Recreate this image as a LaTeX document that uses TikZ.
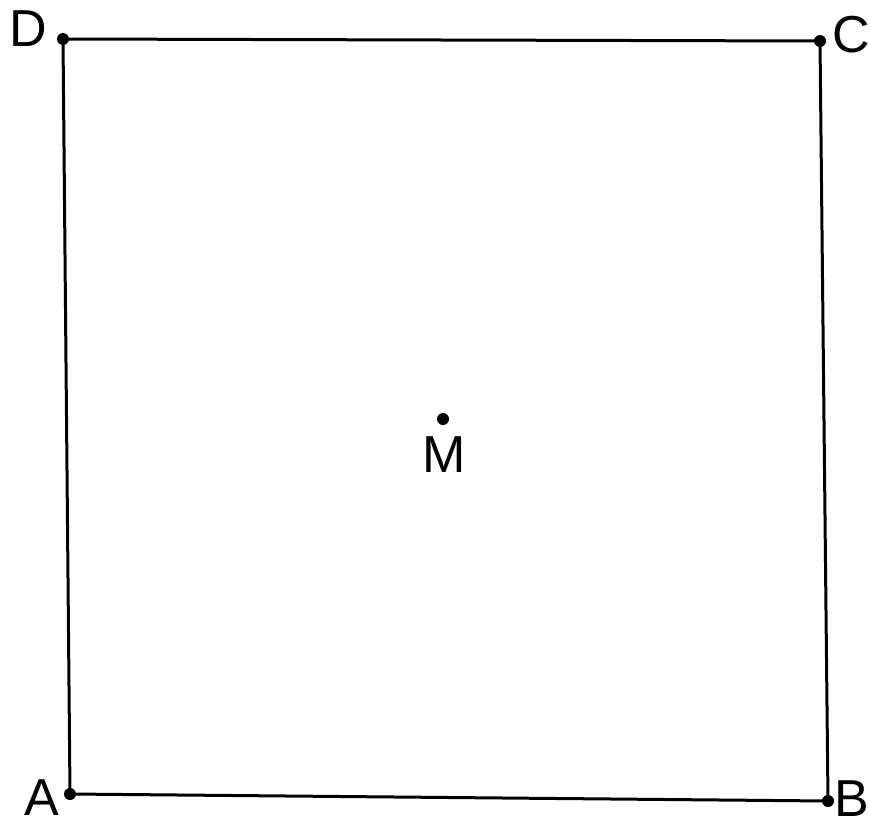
\documentclass[tikz,border=0pt]{standalone}
\usepackage{fontspec}
\setmainfont{Liberation Sans}
\begin{document}
\begin{tikzpicture}[x=1pt,y=-1pt,
  pt/.style={circle,fill=black,inner sep=0pt,minimum size=12pt},
  lbl/.style={font=\fontsize{52}{52}\selectfont,inner sep=0pt,anchor=center},
  side/.style={line width=3pt}]
\useasboundingbox (0,0) rectangle (870,827);
\node[pt] (D) at (63,39) {};
\node[pt] (C) at (820,41) {};
\node[pt] (B) at (828,801) {};
\node[pt] (A) at (70,794) {};
\node[pt] (M) at (443,419) {};
\draw[side] (A.center) -- (B.center) -- (C.center) -- (D.center) -- cycle;
\node[lbl] (lD) at (28,29) {D};
\node[lbl] (lC) at (851,35) {C};
\node[lbl] (lA) at (42,798) {A};
\node[lbl] (lB) at (852,799) {B};
\node[lbl] (lM) at (444,455) {M};
\end{tikzpicture}
\end{document}
